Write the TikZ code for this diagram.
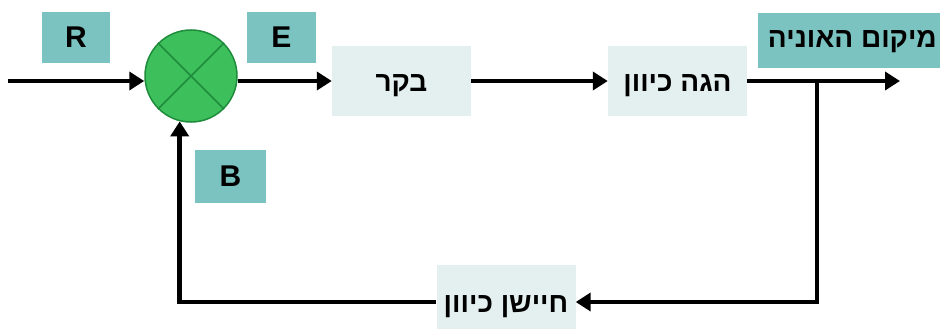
\documentclass[tikz,border=0pt]{standalone}
\usepackage{fontspec}
\setmainfont{Liberation Sans}
\newfontfamily\hebfont[Script=Hebrew]{Liberation Sans}
\TeXXeTstate=1
\usetikzlibrary{arrows.meta}
\definecolor{labelteal}{HTML}{7AC3C1}
\definecolor{blockgray}{HTML}{E4EFEF}
\definecolor{sumgreen}{HTML}{3DBF5C}
\definecolor{sumedge}{HTML}{1F8C3C}
\begin{document}
\begin{tikzpicture}[x=1pt,y=-1pt,
  sig/.style={draw=black, line width=4.5pt, -{Triangle[length=15pt,width=18pt]}},
  letterbox/.style={fill=labelteal, inner sep=0pt, minimum width=68pt, minimum height=51pt,
    font=\bfseries\fontsize{30}{30}\selectfont},
  blockbox/.style={fill=blockgray, inner sep=0pt, minimum width=139pt, minimum height=70pt,
    text height=21pt, text depth=0pt,
    font=\hebfont\bfseries\fontsize{28}{28}\selectfont},
  hebtext/.style={font=\hebfont\bfseries\fontsize{28}{28}\selectfont, inner sep=0pt},
  sumnode/.style={circle, fill=sumgreen, draw=sumedge, line width=1.5pt, minimum size=92pt, inner sep=0pt}
]
\useasboundingbox (0,0) rectangle (943,329);
\fill[white] (0,0) rectangle (943,329);

% labels of the signals
\node[letterbox] (r) at (76,37.5) {R};
\node[letterbox, minimum width=69pt] (e) at (281.5,37.5) {E};
\node[letterbox, minimum width=71pt, minimum height=53pt] (b) at (230.5,176.5) {B};

% summing junction
\node[sumnode] (sum) at (191,76) {};
\draw[sumedge, line width=1.5pt] (sum.north west) -- (sum.south east)
  (sum.north east) -- (sum.south west);

% blocks of the loop
\node[blockbox] (ctrl) at (401.5,81) {\beginR בקר\endR};
\node[blockbox] (steer) at (677.5,81) {\beginR הגה כיוון\endR};
\node[blockbox, minimum height=74pt, text height=20pt] (sens) at (506,302) {\beginR חיישן כיוון\endR};

% output label
\node[fill=labelteal, inner sep=0pt, minimum width=182pt, minimum height=55pt] (pos) at (849,40.5) {};
\node[hebtext, anchor=base east] (postext) at (937,48) {\beginR מיקום האוניה\endR};

% connectors
\coordinate (in) at (8,81);
\coordinate (out) at (900,81);
\coordinate (tap) at (817,81);
\draw[sig] (in) -- (in -| sum.west);
\draw[sig] (sum.east |- in) -- (ctrl.west);
\draw[sig] (ctrl.east) -- (steer.west);
\draw[sig] (steer.east) -- (out);
\draw[sig] (tap) |- (sens.east);
\draw[sig] (sens.west) -| (sum.256);
\end{tikzpicture}
\end{document}
